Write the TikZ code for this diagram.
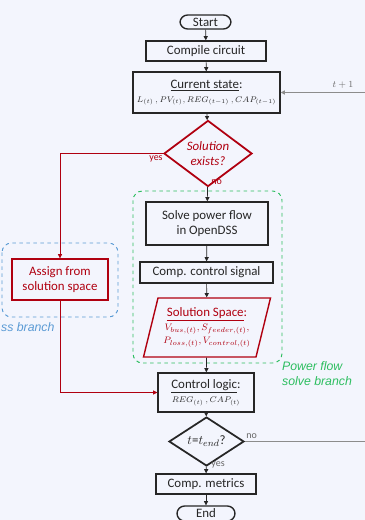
\documentclass[tikz,border=0pt]{standalone}
\usepackage{fontspec}
\setmainfont{Carlito}
\newfontfamily\branchfont{Liberation Sans}
\usetikzlibrary{shapes.geometric,arrows.meta}

\definecolor{bgblue}{HTML}{F3F5FD}
\definecolor{solred}{HTML}{B00010}
\definecolor{pfgreen}{HTML}{2DBE60}
\definecolor{bpblue}{HTML}{5B9BD5}
\definecolor{boxgrey}{HTML}{262626}
\definecolor{loopgrey}{HTML}{8C8C8C}

\tikzset{
    procbox/.style={draw=boxgrey, line width=1.2pt, text=boxgrey, align=center, inner sep=1pt},
    termbox/.style={procbox, rounded corners=6.5pt},
    redbox/.style={procbox, draw=solred, text=solred},
    choice/.style={diamond, draw=boxgrey, line width=1.5pt, text=boxgrey, align=center, inner sep=0pt},
    conn/.style={draw=boxgrey, line width=0.6pt, -{Triangle[length=3.5pt,width=3.5pt]}},
    redconn/.style={conn, draw=solred},
    branch/.style={dashed, line width=0.8pt, rounded corners=8pt},
    branchlabel/.style={font=\branchfont\itshape\fontsize{10.5}{13}\selectfont, align=left},
    edgelabel/.style={font=\fontsize{8.5}{10}\selectfont, inner sep=1pt}
}

\begin{document}
\begin{tikzpicture}[x=0.03cm, y=-0.03cm, font=\fontsize{11}{13}\selectfont]
            \path[use as bounding box, fill=bgblue] (0,0) rectangle (365,520);
            % \draw[help lines, color=gray!30, dashed] (0,0) grid[step=10] (365,520);

            % branch frames
            \draw[branch, draw=pfgreen] (133,191) rectangle (282,363);
            \draw[branch, draw=bpblue] (2,243) rectangle (118,317);
            \node[branchlabel, text=pfgreen, anchor=north west] (pflabel) at (278,357) {Power flow\\solve branch};
            \node[branchlabel, text=bpblue, anchor=west] (bplabel) at (-3,327) {ss branch};

            % main column
            \node[termbox, minimum width=1.53cm, minimum height=0.42cm] (start) at (205.5,22) {Start};
            \node[procbox, minimum width=3.6cm, minimum height=0.6cm] (compile) at (206,51) {Compile circuit};
            \node[procbox, minimum width=4.41cm, minimum height=1.23cm] (state) at (206.5,92.5)
                {\underline{Current state}:\\[-1pt]
                 {\fontsize{7.5}{9}\selectfont$L_{(t)}\,,PV_{(t)},REG_{(t-1)}\,,CAP_{(t-1)}$}};
            \node[choice, draw=solred, text=solred, font=\itshape\fontsize{11}{12.5}\selectfont,
                  minimum width=2.64cm, minimum height=1.41cm] (exists) at (208,153.5) {Solution\\exists?};
            \node[procbox, minimum width=3.66cm, minimum height=1.29cm] (solve) at (207,223.5) {Solve power flow\\in OpenDSS};
            \node[procbox, minimum width=3.99cm, minimum height=0.63cm] (signal) at (206.5,272.5) {Comp. control signal};
            \node[trapezium, trapezium left angle=72, trapezium right angle=108, trapezium stretches=true,
                  draw=solred, line width=1.2pt, text=solred, align=center, inner sep=0pt,
                  minimum width=3.84cm, minimum height=1.77cm] (space) at (207,327.5)
                {\underline{Solution Space}:\\[-1pt]
                 {\fontsize{8}{9}\selectfont$V_{bus,(t)},S_{feeder,(t)},$}\\[-2pt]
                 {\fontsize{8}{9}\selectfont$P_{loss,(t)},V_{control,(t)}$}};
            \node[redbox, minimum width=2.88cm, minimum height=1.23cm] (assign) at (60,279.5) {Assign from\\solution space};
            \node[procbox, minimum width=2.88cm, minimum height=1.17cm] (logic) at (206,392.5)
                {\underline{Control logic}:\\[-1pt]
                 {\fontsize{7.5}{9}\selectfont$REG_{(t)}\,,CAP_{(t)}$}};
            \node[choice, minimum width=2.25cm, minimum height=1.11cm] (tend) at (206.5,441.5) {$t$=$t_{end}$?};
            \node[procbox, minimum width=3.0cm, minimum height=0.6cm] (metrics) at (206,484) {Comp. metrics};
            \node[termbox, minimum width=1.74cm, minimum height=0.45cm] (end) at (206,513.5) {End};

            % connectors
            \foreach \a/\b in {start/compile, compile/state, state/exists, exists/solve, solve/signal,
                               signal/space, space/logic, logic/tend, tend/metrics, metrics/end}
                \draw[conn] (\a) -- (\b);

            \draw[redconn] (exists.west) -| (assign.north);
            \draw[redconn] (assign.south) |- (logic.west);

            \coordinate (loopbot) at (372,441.5);
            \coordinate (looptop) at (372,92.5);
            \draw[conn, draw=loopgrey, line width=0.9pt] (tend.east) -- (loopbot) -- (looptop) -- (state.east);

            % edge labels
            \node[edgelabel, text=solred, anchor=north east] (yes1) at (164,154) {yes};
            \node[edgelabel, text=solred, anchor=west] (no1) at (210,182) {no};
            \node[edgelabel, text=boxgrey!70, anchor=south west] (no2) at (245,440) {no};
            \node[edgelabel, text=boxgrey!70, anchor=west] (yes2) at (210,465) {yes};
            \node[edgelabel, text=boxgrey!70, font=\footnotesize, anchor=south] (next) at (343,90) {$t+1$};
\end{tikzpicture}
\end{document}
